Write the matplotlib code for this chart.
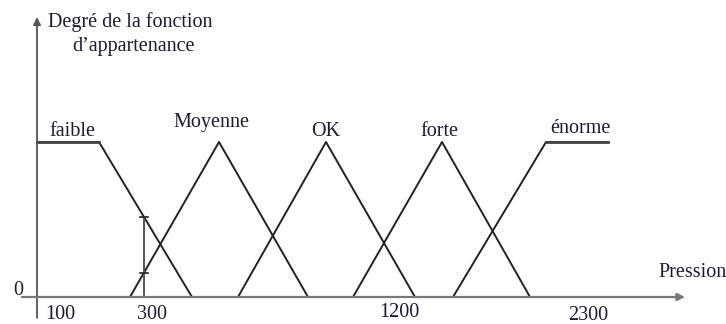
import numpy as np
import matplotlib
matplotlib.use("Agg")
import matplotlib.pyplot as plt

# --- data (diagram units: x in schematic pressure units, y = membership degree) ---
set_names = ["faible", "Moyenne", "OK", "forte", "énorme"]
faible_x = [0, 62, 155]
faible_y = [1, 1, 0]
moyenne_x = [93, 182, 271]
moyenne_y = [0, 1, 0]
ok_x = [201, 289, 378]
ok_y = [0, 1, 0]
forte_x = [316, 405, 493]
forte_y = [0, 1, 0]
enorme_x = [416, 509, 571]
enorme_y = [0, 1, 1]

tick_labels = ["100", "300", "1200", "2300"]
tick_pos = [23, 115, 362, 551]
tick_ypos = [-0.115, -0.11, -0.097, -0.118]

label_pos_x = [35.5, 174.5, 289, 402, 543]
label_pos_y = [1.065, 1.129, 1.065, 1.065, 1.09]

sample_x = 107  # vertical reading line (pressure 300)

plt.rcParams['font.family'] = ['Liberation Serif', 'DejaVu Serif']
txt_color = '#1c1c30'
line_color = '#222222'
axis_color = '#555555'

fig = plt.figure(figsize=(7.26, 3.24), dpi=100)
ax = fig.add_axes([0, 0, 1, 1])
ax.set_xlim(-37, 689)
ax.set_ylim((297 - 324) / 155, 297 / 155)
ax.axis('off')

# axes with arrows
ax.annotate('', xy=(0, 1.806), xytext=(0, -0.135),
            arrowprops=dict(arrowstyle='-|>', lw=1.3, color=axis_color,
                            mutation_scale=11, shrinkA=0, shrinkB=0))
ax.annotate('', xy=(648, 0), xytext=(-15, 0),
            arrowprops=dict(arrowstyle='-|>', lw=1.6, color='#777777',
                            mutation_scale=11, shrinkA=0, shrinkB=0))

# membership functions
series = [(faible_x, faible_y), (moyenne_x, moyenne_y), (ok_x, ok_y),
          (forte_x, forte_y), (enorme_x, enorme_y)]
for i, (xs, ys) in enumerate(series):
    ax.plot(xs, ys, color=line_color, lw=1.4, solid_capstyle='butt')
# thicker flat plateaus
ax.plot(faible_x[:2], faible_y[:2], color='#444444', lw=2.0)
ax.plot(enorme_x[1:], enorme_y[1:], color='#444444', lw=2.0)

for name, lx, ly in zip(set_names, label_pos_x, label_pos_y):
    ax.text(lx, ly, name, ha='center', va='center', fontsize=14.5, color=txt_color)

# vertical reading line at pressure 300 with marks on the two degrees
mu_faible = np.interp(sample_x, faible_x, faible_y)
mu_moy = np.interp(sample_x, moyenne_x, moyenne_y)
ax.plot([sample_x, sample_x], [0, mu_faible], color='#555555', lw=1.4)
for mu in (mu_faible, mu_moy):
    ax.plot([sample_x - 4, sample_x + 4], [mu, mu], color=line_color, lw=1.2)

# tick labels
for t, px, py in zip(tick_labels, tick_pos, tick_ypos):
    ax.text(px, py, t, ha='center', va='center', fontsize=14.5, color=txt_color)
ax.text(-19, 0.045, "0", ha='center', va='center', fontsize=14.5, color=txt_color)
ax.text(621, 0.155, "Pression", ha='left', va='center', fontsize=14.5, color=txt_color)

# y axis title
ax.text(11, 1.774, "Degré de la fonction", ha='left', va='center', fontsize=14.5, color=txt_color)
ax.text(35, 1.613, "d\u2019appartenance", ha='left', va='center', fontsize=14.5, color=txt_color)

fig.savefig("out.png", dpi=100)
